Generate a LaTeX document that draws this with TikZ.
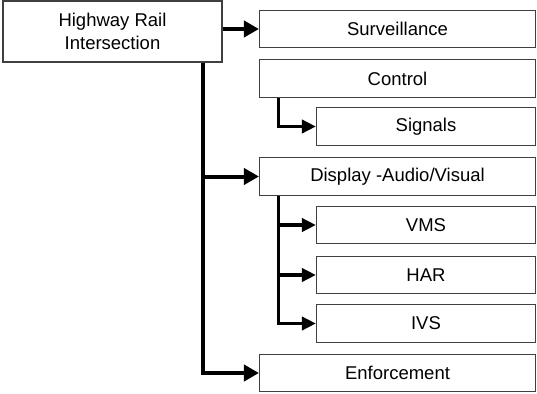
\documentclass[tikz,border=0pt]{standalone}
\usepackage{fontspec}
\setmainfont{Liberation Sans}
\usetikzlibrary{arrows.meta}
\begin{document}
\begin{tikzpicture}[x=1pt,y=-1pt,
  box/.style={draw=black!75, line width=1.1pt, inner sep=0pt, align=center,
    font=\fontsize{18.5}{23}\selectfont},
  mainbox/.style={box, minimum width=276pt, minimum height=37.5pt},
  subbox/.style={box, minimum width=219pt, minimum height=37.5pt},
  conn/.style={line width=4pt, -{Triangle[length=15pt,width=16pt]}},
  subconn/.style={line width=3.6pt, -{Triangle[length=14pt,width=13pt]}}]
\useasboundingbox (0,0) rectangle (537,393);
\node[box, minimum width=219pt, minimum height=61pt] (root) at (112.5,31.5) {Highway Rail\\Intersection};
\node[mainbox] (surv) at (397.5,29) {Surveillance};
\node[mainbox] (ctrl) at (397.5,78.5) {Control};
\node[subbox] (sig) at (426,126.5) {Signals};
\node[mainbox] (disp) at (397.5,176.5) {Display -Audio/Visual};
\node[subbox] (vms) at (426,225) {VMS};
\node[subbox] (har) at (426,275) {HAR};
\node[subbox] (ivs) at (426,323.5) {IVS};
\node[mainbox] (enf) at (397.5,373) {Enforcement};
\coordinate (t) at (203,0);
\coordinate (s) at (278.5,0);
\draw[conn] (root.east |- surv.west) -- (surv.west);
\draw[conn] (t |- root.south) |- (enf.west);
\draw[conn] (t |- disp.west) -- (disp.west);
\draw[subconn] (s |- ctrl.south) |- (sig.west);
\draw[subconn] (s |- disp.south) |- (ivs.west);
\draw[subconn] (s |- vms.west) -- (vms.west);
\draw[subconn] (s |- har.west) -- (har.west);
\end{tikzpicture}
\end{document}
